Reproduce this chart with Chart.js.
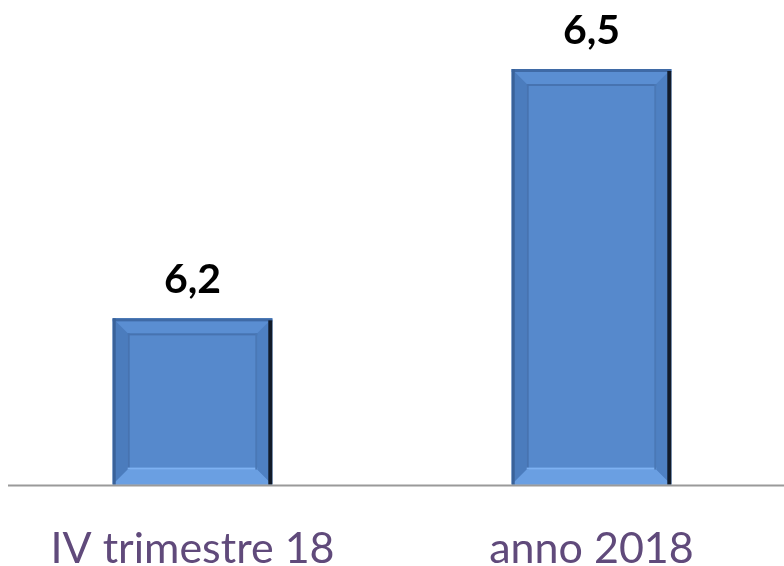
<!DOCTYPE html>
<html>
<head>
<meta charset="utf-8">
<script src="https://cdn.jsdelivr.net/npm/chart.js@4.4.1/dist/chart.umd.min.js"></script>
<style>
  html, body { margin: 0; padding: 0; background: #fff; overflow: hidden; }
  #wrap { position: absolute; left: -7px; top: 0; }
</style>
</head>
<body>
<div id="wrap"><canvas id="myChart" width="798" height="613"></canvas></div>
<script>
// chart data
var categories = ["IV trimestre 18", "anno 2018"];
var values = [6.2, 6.5];
var valueLabels = ["6,2", "6,5"];
var axisMin = 6.0;
var axisMax = 6.5;

// bevelled bars, drawn over the library's bar elements
var bevelBars = {
    id: 'bevelBars',
    afterDatasetsDraw: function(chart) {
        var ctx = chart.ctx;
        var area = chart.chartArea;
        var meta = chart.getDatasetMeta(0);
        meta.data.forEach(function(bar) {
            var p = bar.getProps(['x', 'y', 'base', 'width'], true);
            var l = p.x - p.width / 2, r = p.x + p.width / 2;
            var t = p.y, b = Math.min(p.base, area.bottom);
            var bw = 15;
            ctx.save();
            // base fill
            ctx.fillStyle = '#5689cc';
            ctx.fillRect(l, t, r - l, b - t);
            // top bevel
            ctx.fillStyle = '#5a8ed2';
            ctx.beginPath();
            ctx.moveTo(l, t); ctx.lineTo(r, t); ctx.lineTo(r - bw, t + bw); ctx.lineTo(l + bw, t + bw);
            ctx.closePath(); ctx.fill();
            // left bevel
            ctx.fillStyle = '#4b7cbd';
            ctx.beginPath();
            ctx.moveTo(l, t); ctx.lineTo(l + bw, t + bw); ctx.lineTo(l + bw, b - bw); ctx.lineTo(l, b);
            ctx.closePath(); ctx.fill();
            // bottom bevel
            ctx.fillStyle = '#6a9fe2';
            ctx.beginPath();
            ctx.moveTo(l, b); ctx.lineTo(l + bw, b - bw); ctx.lineTo(r - bw, b - bw); ctx.lineTo(r, b);
            ctx.closePath(); ctx.fill();
            // right bevel
            ctx.fillStyle = '#4e80c2';
            ctx.beginPath();
            ctx.moveTo(r, t); ctx.lineTo(r - bw, t + bw); ctx.lineTo(r - bw, b - bw); ctx.lineTo(r, b);
            ctx.closePath(); ctx.fill();
            // outer edges
            ctx.fillStyle = '#3f6aa6';
            ctx.fillRect(l, t, r - l, 3);
            ctx.fillStyle = '#3a6299';
            ctx.fillRect(l, t, 3, b - t);
            ctx.fillStyle = '#121b29';
            ctx.fillRect(r - 4, t + 2, 4, b - t - 2);
            // inner panel lines
            ctx.fillStyle = '#4773b0';
            ctx.fillRect(l + bw, t + bw, r - l - 2 * bw, 2);
            ctx.fillRect(l + bw, t + bw, 2, b - t - 2 * bw);
            ctx.fillStyle = '#7db1f2';
            ctx.fillRect(l + bw, b - bw - 2, r - l - 2 * bw, 2);
            ctx.fillStyle = '#4a78b6';
            ctx.fillRect(r - bw - 2, t + bw, 2, b - t - 2 * bw);
            ctx.restore();
        });
    },
    afterDraw: function(chart) {
        var ctx = chart.ctx;
        var area = chart.chartArea;
        // baseline
        ctx.save();
        ctx.strokeStyle = '#9a9a9a';
        ctx.lineWidth = 2;
        ctx.beginPath();
        ctx.moveTo(15, area.bottom + 1);
        ctx.lineTo(chart.width, area.bottom + 1);
        ctx.stroke();
        // value labels
        var meta = chart.getDatasetMeta(0);
        ctx.fillStyle = '#000';
        ctx.font = 'bold 41px Lato';
        ctx.textAlign = 'center';
        ctx.textBaseline = 'alphabetic';
        meta.data.forEach(function(bar, i) {
            ctx.fillText(valueLabels[i], bar.x, bar.y - 25);
        });
        ctx.restore();
    }
};

var context = document.getElementById('myChart').getContext('2d');
var myChart = new Chart(context, {
    type: 'bar',
    data: {
        labels: categories,
        datasets: [{
            data: values,
            backgroundColor: 'rgba(0,0,0,0)',
            borderWidth: 0,
            categoryPercentage: 1.0,
            barPercentage: 0.4
        }]
    },
    options: {
        responsive: false,
        animation: false,
        layout: { padding: { top: 69, left: 0, right: 0, bottom: 0 } },
        plugins: {
            legend: { display: false },
            tooltip: { enabled: false }
        },
        scales: {
            x: {
                grid: { display: false, drawTicks: false },
                border: { display: false },
                ticks: {
                    color: '#604a7b',
                    padding: 47,
                    font: { family: 'Lato', size: 43, lineHeight: 0.8 }
                }
            },
            y: {
                display: false,
                min: axisMin,
                max: axisMax
            }
        }
    },
    plugins: [bevelBars]
});
</script>
</body>
</html>
